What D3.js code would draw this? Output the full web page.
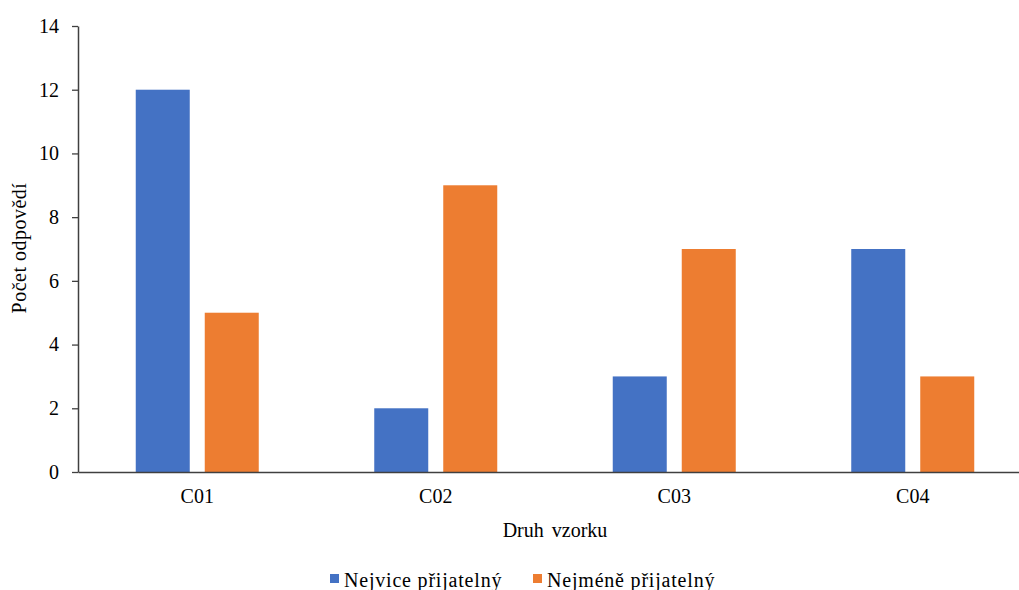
<!DOCTYPE html>
<html>
<head>
<meta charset="utf-8">
<script src="https://cdn.jsdelivr.net/npm/d3@7"></script>
<style>
  body { margin: 0; background: #fff; }
  svg text { font-family: "Times New Roman", "Liberation Serif", "DejaVu Serif", serif; fill: #000; }
</style>
</head>
<body>
<div id="chart"></div>
<script>
// data
const categories = ["C01", "C02", "C03", "C04"];
const seriesNames = ["Nejvice přijatelný", "Nejméně přijatelný"];
const nejvice = [12, 2, 3, 7];
const nejmene = [5, 9, 7, 3];
const yTicks = [0, 2, 4, 6, 8, 10, 12, 14];
const colors = ["#4472C4", "#ED7D31"];

const serif = "'Times New Roman', 'Liberation Serif', 'DejaVu Serif', serif";

let width = 1019;
let height = 590;

let svg = d3.select("#chart").append("svg")
    .attr("width", width)
    .attr("height", height)
    .attr("font-family", serif);

let x0 = d3.scaleBand()
    .domain(categories)
    .range([78, 1032])
    .padding(0);

let bw = x0.bandwidth();
let x1 = d3.scaleBand()
    .domain(seriesNames)
    .range([(bw - 123) / 2, (bw + 123) / 2])
    .paddingInner(0.2174)
    .paddingOuter(0);

let y = d3.scaleLinear()
    .domain([0, 14])
    .range([472, 26]);

let rows = categories.map((c, i) => ({cat: c, vals: [nejvice[i], nejmene[i]]}));

// bars
svg.append("g").selectAll("g")
    .data(rows)
    .join("g")
    .attr("transform", d => "translate(" + x0(d.cat) + ",0)")
    .selectAll("rect")
    .data(d => d.vals.map((v, j) => ({name: seriesNames[j], v: v, j: j})))
    .join("rect")
    .attr("x", d => x1(d.name))
    .attr("y", d => y(d.v))
    .attr("width", x1.bandwidth())
    .attr("height", d => y(0) - y(d.v))
    .style("fill", d => colors[d.j]);

// y axis
let yAxis = svg.append("g")
    .attr("transform", "translate(78,0)")
    .call(d3.axisLeft(y).tickValues(yTicks).tickSize(6).tickSizeOuter(0).tickPadding(13))
    .attr("font-family", serif)
    .attr("font-size", 20);
yAxis.select(".domain").attr("stroke", "#404040").attr("stroke-width", 1.5);
yAxis.selectAll(".tick line").attr("stroke", "#404040").attr("stroke-width", 1.3);
yAxis.selectAll(".tick text").attr("fill", "#000");

// x axis
let xAxis = svg.append("g")
    .attr("transform", "translate(0," + y(0) + ")")
    .call(d3.axisBottom(x0).tickSize(0).tickPadding(17))
    .attr("font-family", serif)
    .attr("font-size", 20);
xAxis.select(".domain").attr("stroke", "#404040").attr("stroke-width", 1.5);
xAxis.selectAll(".tick text").attr("fill", "#000");

// axis titles
svg.append("text")
    .attr("x", 555)
    .attr("y", 537)
    .attr("text-anchor", "middle")
    .attr("font-size", 20)
    .attr("word-spacing", 3)
    .text("Druh vzorku");

svg.append("text")
    .attr("transform", "translate(26,248) rotate(-90)")
    .attr("text-anchor", "middle")
    .attr("font-size", 20)
    .attr("letter-spacing", 0.5)
    .text("Počet odpovědí");

// legend
let legendX = [330, 533];
let legend = svg.append("g").selectAll("g")
    .data(seriesNames)
    .join("g")
    .attr("transform", (d, i) => "translate(" + legendX[i] + ",0)");
legend.append("rect")
    .attr("x", 0)
    .attr("y", 574)
    .attr("width", 9)
    .attr("height", 9)
    .style("fill", (d, i) => colors[i]);
legend.append("text")
    .attr("x", 14)
    .attr("y", 587)
    .attr("font-size", 20)
    .attr("letter-spacing", 0.8)
    .text(d => d);
</script>
</body>
</html>
